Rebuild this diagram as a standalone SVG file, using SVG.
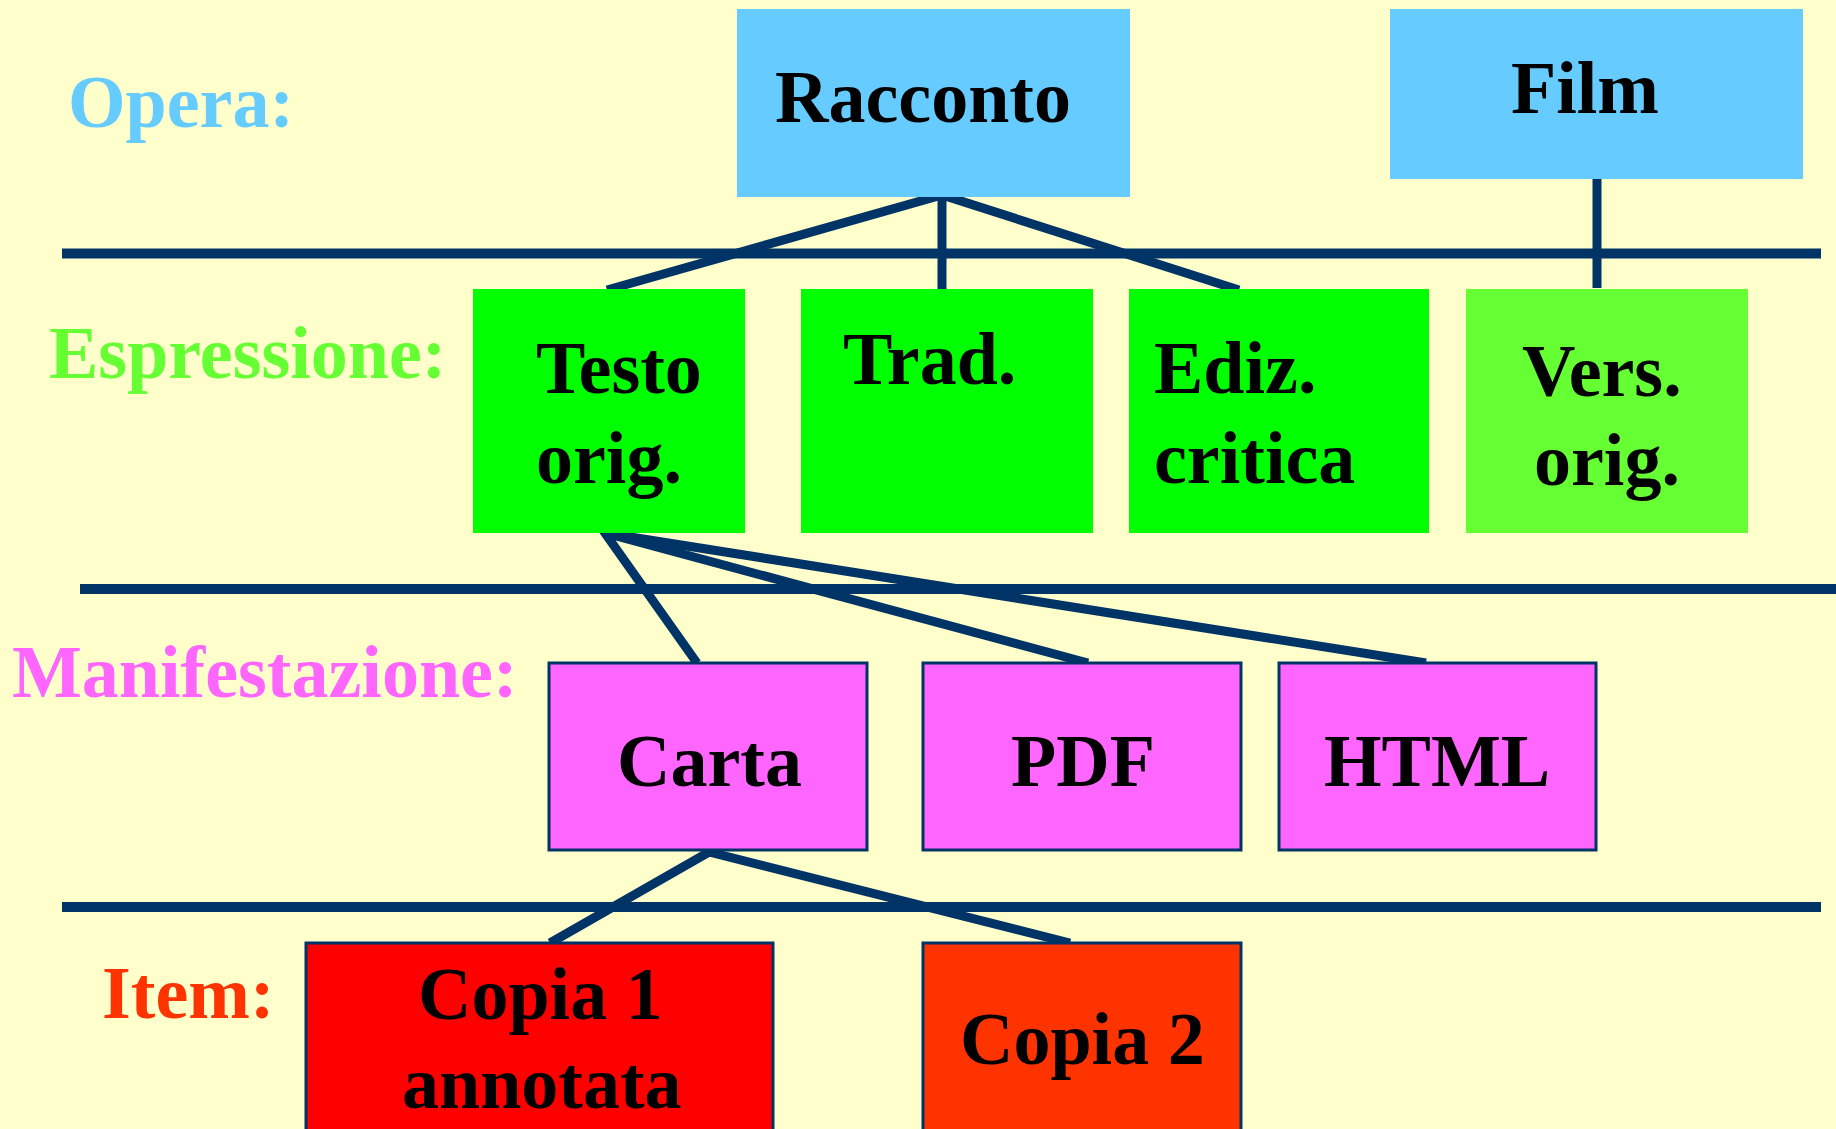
<svg xmlns="http://www.w3.org/2000/svg" width="1836" height="1129" viewBox="0 0 1836 1129">
<style>
text{font-family:"Liberation Serif","Times New Roman",serif;font-weight:bold;font-size:74px;}
.t{fill:#000;}
.ln{stroke:#003366;stroke-width:10;fill:none;}
.dg{stroke:#003366;stroke-width:9;fill:none;stroke-linecap:butt;}
.bx{stroke:#003366;stroke-width:3;}
</style>
<rect x="0" y="0" width="1836" height="1129" fill="#ffffcc"/>
<g id="labels">
<text x="68" y="127" fill="#66ccff">Opera:</text>
<text x="49" y="378" fill="#66ff33">Espressione:</text>
<text x="12" y="697" fill="#ff66ff">Manifestazione:</text>
<text x="102" y="1018" fill="#ff3300">Item:</text>
</g>
<g id="connectors">
<line class="ln" x1="62" y1="253.5" x2="1821" y2="253.5"/>
<line class="ln" x1="80" y1="589" x2="1836" y2="589"/>
<line class="ln" x1="62" y1="907" x2="1821" y2="907"/>
<polyline class="dg" points="607,290 942,195 1239,290"/>
<line class="dg" x1="942" y1="195" x2="942" y2="289" stroke-width="10"/>
<line class="dg" x1="1597" y1="179" x2="1597" y2="288" stroke-width="11"/>
<polyline class="dg" points="697,663 605,533 1088,663"/>
<line class="dg" x1="605" y1="533" x2="1426" y2="663"/>
<polyline class="dg" points="550,943 709,852 1070,943"/>
</g>
<g id="racconto"><rect x="737" y="9" width="393" height="188" fill="#66ccff"/><text class="t" x="775" y="122">Racconto</text></g>
<g id="film"><rect x="1390" y="9" width="413" height="170" fill="#66ccff"/><text class="t" x="1511" y="113">Film</text></g>
<g id="testo-orig"><rect x="473" y="289" width="272" height="244" fill="#00ff00"/><text class="t" x="536" y="393">Testo</text><text class="t" x="536" y="483">orig.</text></g>
<g id="trad"><rect x="801" y="289" width="292" height="244" fill="#00ff00"/><text class="t" x="843" y="384">Trad.</text></g>
<g id="ediz-critica"><rect x="1129" y="289" width="300" height="244" fill="#00ff00"/><text class="t" x="1154" y="393">Ediz.</text><text class="t" x="1154" y="483">critica</text></g>
<g id="vers-orig"><rect x="1466" y="289" width="282" height="244" fill="#66ff33"/><text class="t" x="1522" y="396">Vers.</text><text class="t" x="1534" y="485">orig.</text></g>
<g id="carta"><rect class="bx" x="549" y="663" width="318" height="187" fill="#ff66ff"/><text class="t" x="617" y="786">Carta</text></g>
<g id="pdf"><rect class="bx" x="923" y="663" width="318" height="187" fill="#ff66ff"/><text class="t" x="1011" y="786">PDF</text></g>
<g id="html"><rect class="bx" x="1279" y="663" width="317" height="187" fill="#ff66ff"/><text class="t" x="1324" y="786">HTML</text></g>
<g id="copia1"><rect class="bx" x="306" y="943" width="467" height="200" fill="#ff0000"/><text class="t" x="418" y="1019">Copia 1</text><text class="t" x="402" y="1108">annotata</text></g>
<g id="copia2"><rect class="bx" x="923" y="943" width="318" height="200" fill="#ff3300"/><text class="t" x="960" y="1064">Copia 2</text></g>
</svg>
